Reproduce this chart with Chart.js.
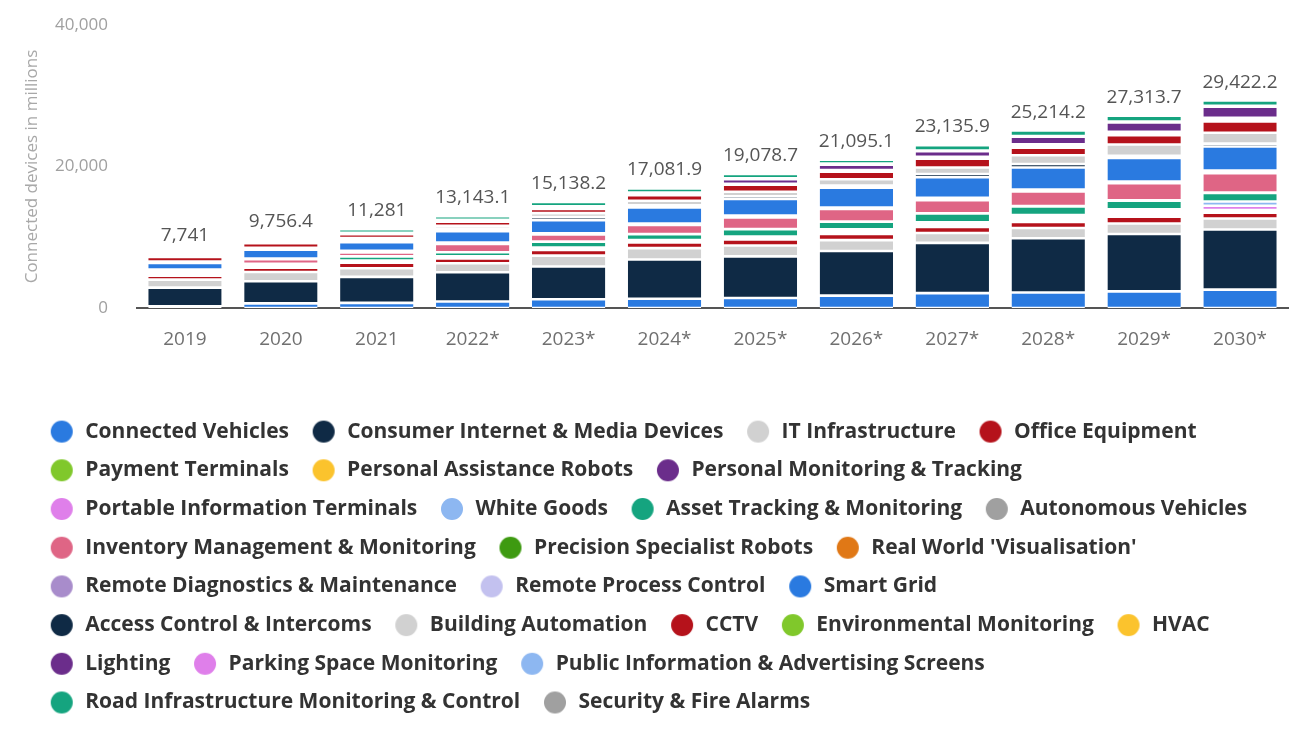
<!DOCTYPE html>
<html><head><meta charset="utf-8">
<script src="https://cdn.jsdelivr.net/npm/chart.js@4"></script>
<style>html,body{margin:0;padding:0;background:#fff;}#wrap{width:1314px;height:741px;position:relative;}</style>
</head><body><div id="wrap"><canvas id="c"></canvas></div>
<script>
// ---------- DATA ----------
const years = ['2019','2020','2021','2022*','2023*','2024*','2025*','2026*','2027*','2028*','2029*','2030*'];
const totals = [7741, 9756.4, 11281, 13143.1, 15138.2, 17081.9, 19078.7, 21095.1, 23135.9, 25214.2, 27313.7, 29422.2];
const yTicks = [0, 20000, 40000];

const connectedVehicles   = [250, 650, 720, 920, 1240, 1310, 1410, 1750, 2100, 2200, 2350, 2600];
const consumerInternet    = [2630, 3140, 3680, 4130, 4620, 5550, 5890, 6300, 7100, 7650, 8100, 8500];
const itInfrastructure    = [1130, 1300, 1220, 1270, 1540, 1600, 1540, 1540, 1400, 1450, 1500, 1540];
const officeEquipment     = [550, 610, 800, 700, 790, 800, 850, 880, 850, 880, 950, 830];
const paymentTerminals    = [100, 90, 60, 60, 70, 70, 80, 110, 110, 160, 170, 130];
const personalAssistance  = [10, 10, 10, 10, 10, 10, 15, 20, 20, 30, 35, 50];
const personalMonitoring  = [60, 60, 40, 50, 60, 60, 80, 120, 120, 180, 200, 200];
const portableInfo        = [120, 110, 80, 90, 100, 100, 120, 200, 200, 290, 320, 600];
const whiteGoods          = [120, 110, 80, 90, 100, 100, 125, 210, 210, 300, 325, 600];
const assetTracking       = [150, 150, 590, 550, 850, 830, 1030, 1070, 1250, 1220, 1220, 1220];
const autonomousVehicles  = [5, 5, 10, 10, 15, 20, 25, 30, 35, 40, 60, 60];
const inventoryMgmt       = [200, 650, 565, 1170, 1000, 1300, 1640, 1780, 1850, 2060, 2400, 2730];
const precisionRobots     = [20, 25, 40, 40, 35, 45, 55, 50, 70, 60, 55, 80];
const realWorldVis        = [10, 10, 15, 15, 15, 15, 20, 20, 25, 25, 20, 30];
const remoteDiagnostics   = [30, 35, 80, 70, 50, 65, 85, 60, 115, 95, 85, 130];
const remoteProcess       = [35, 40, 100, 75, 50, 75, 90, 70, 130, 100, 90, 140];
const smartGrid           = [930, 1260, 1220, 1600, 1870, 2250, 2350, 2800, 2900, 3110, 3340, 3380];
const accessControl       = [80, 100, 250, 330, 440, 300, 380, 280, 450, 500, 300, 420];
const buildingAutomation  = [120, 140, 330, 430, 550, 650, 650, 900, 930, 1230, 1600, 1540];
const cctv                = [650, 650, 550, 600, 600, 800, 975, 1070, 1250, 1070, 1310, 1600];
const environmentalMon    = [60, 70, 50, 60, 80, 70, 100, 170, 160, 320, 320, 350];
const hvac                = [40, 45, 30, 35, 40, 40, 50, 80, 80, 160, 160, 170];
const lighting            = [100, 120, 60, 90, 160, 200, 650, 750, 800, 1070, 1310, 1540];
const parkingSpace        = [30, 35, 20, 20, 30, 25, 40, 50, 35, 40, 45, 45];
const publicInfo          = [60, 70, 40, 45, 70, 45, 80, 90, 65, 80, 85, 90];
const roadInfrastructure  = [150, 170, 500, 500, 600, 550, 600, 550, 750, 790, 830, 750];
const securityFire        = [100, 100, 140, 180, 150, 200, 150, 150, 130, 100, 135, 100];

const seriesNames = ['Connected Vehicles','Consumer Internet & Media Devices','IT Infrastructure','Office Equipment',
 'Payment Terminals','Personal Assistance Robots','Personal Monitoring & Tracking','Portable Information Terminals',
 'White Goods','Asset Tracking & Monitoring','Autonomous Vehicles','Inventory Management & Monitoring',
 'Precision Specialist Robots',"Real World 'Visualisation'",'Remote Diagnostics & Maintenance','Remote Process Control',
 'Smart Grid','Access Control & Intercoms','Building Automation','CCTV','Environmental Monitoring','HVAC','Lighting',
 'Parking Space Monitoring','Public Information & Advertising Screens','Road Infrastructure Monitoring & Control','Security & Fire Alarms'];
const seriesValues = [connectedVehicles, consumerInternet, itInfrastructure, officeEquipment, paymentTerminals,
 personalAssistance, personalMonitoring, portableInfo, whiteGoods, assetTracking, autonomousVehicles, inventoryMgmt,
 precisionRobots, realWorldVis, remoteDiagnostics, remoteProcess, smartGrid, accessControl, buildingAutomation, cctv,
 environmentalMon, hvac, lighting, parkingSpace, publicInfo, roadInfrastructure, securityFire];

// ---------- STYLE ----------
const palette = ['#2a7ae0','#0f2a45','#d1d1d1','#b5121b','#80c82b','#fbc32d','#6b2d8b','#df7fea',
                 '#8db7f1','#15a47f','#a0a0a0','#df6585','#3e9a11','#e07816','#a88ccb','#c3c1ef'];
const colors = seriesNames.map((_, i) => palette[i % 16]);

const LEG_FONT = 21, LEG_PAD = 17.7, PAD = {top: 25, left: 27, right: 26, bottom: 18};
const legendRows = 8;
const legendH = legendRows * (LEG_FONT + LEG_PAD) + 10;
const PLOT_BOTTOM = 308, PLOT_LEFT = 137;

function dot(color) {
  const c = document.createElement('canvas');
  c.width = 30; c.height = 24;
  const g = c.getContext('2d');
  g.fillStyle = color;
  g.beginPath(); g.arc(17, 12, 11, 0, Math.PI * 2); g.fill();
  return c;
}
const dots = colors.map(dot);

const fmt = v => v.toLocaleString('en-US', {maximumFractionDigits: 1});

const totalsPlugin = {
  id: 'totals',
  afterDatasetsDraw(chart) {
    const {ctx, scales: {x, y}} = chart;
    ctx.save();
    ctx.font = '19px "Open Sans"';
    ctx.fillStyle = '#555';
    ctx.textAlign = 'center';
    ctx.textBaseline = 'alphabetic';
    totals.forEach((t, i) => ctx.fillText(fmt(t), x.getPixelForValue(i), y.getPixelForValue(t) - 12));
    ctx.restore();
  }
};

new Chart(document.getElementById('c'), {
  type: 'bar',
  data: {
    labels: years,
    datasets: seriesNames.map((name, i) => ({
      label: name,
      data: seriesValues[i],
      backgroundColor: colors[i],
      borderColor: '#ffffff',
      borderWidth: {top: 1.3, bottom: 1.3, left: 0, right: 0},
      borderSkipped: false,
      barPercentage: 0.765,
      categoryPercentage: 1
    }))
  },
  options: {
    responsive: true,
    maintainAspectRatio: false,
    animation: false,
    devicePixelRatio: 1,
    layout: {padding: PAD},
    plugins: {
      tooltip: {enabled: false},
      legend: {
        position: 'bottom',
        align: 'start',
        labels: {
          usePointStyle: true,
          pointStyleWidth: 30,
          boxHeight: 21,
          padding: LEG_PAD,
          color: '#333',
          font: {family: 'Open Sans', size: LEG_FONT, weight: 'bold'},
          generateLabels(chart) {
            return chart.data.datasets.map((ds, i) => ({
              text: ds.label, fillStyle: colors[i], strokeStyle: colors[i], lineWidth: 0,
              hidden: false, datasetIndex: i, pointStyle: dots[i], fontColor: '#333'
            }));
          }
        }
      }
    },
    scales: {
      x: {
        stacked: true,
        grid: {display: false, drawTicks: false},
        border: {display: true, color: '#555', width: 2},
        ticks: {color: '#707070', font: {family: 'Open Sans', size: 19}, padding: 20},
        afterFit(s) { s.height = 741 - PAD.bottom - legendH - PLOT_BOTTOM; }
      },
      y: {
        stacked: true,
        min: 0, max: 40000,
        afterBuildTicks(s) { s.ticks = yTicks.map(v => ({value: v})); },
        grid: {display: false, drawTicks: true, tickLength: 27},
        border: {display: false},
        ticks: {color: '#a0a0a0', font: {family: 'Open Sans', size: 17}, padding: 2,
                callback: v => v.toLocaleString('en-US')},
        title: {display: true, text: 'Connected devices in millions', color: '#a8a8a8',
                font: {family: 'Open Sans', size: 17}, padding: {top: -5, bottom: 0}},
        afterFit(s) { s.width = PLOT_LEFT - PAD.left; }
      }
    }
  },
  plugins: [totalsPlugin]
});
</script></body></html>
